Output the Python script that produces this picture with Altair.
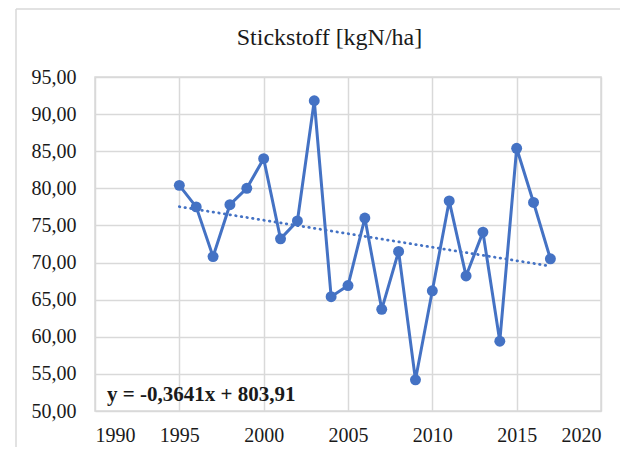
import altair as alt
import pandas as pd

years = list(range(1995, 2018))
stickstoff = [80.4, 77.5, 70.8, 77.8, 80.0, 84.0, 73.2, 75.6, 91.8, 65.4, 66.9,
              76.0, 63.7, 71.5, 54.2, 66.2, 78.3, 68.2, 74.1, 59.4, 85.4, 78.1, 70.5]
trend_slope = -0.3641
trend_intercept = 803.91
trend_label = "y = -0,3641x + 803,91"
chart_title = "Stickstoff [kgN/ha]"
x_ticks = [1990, 1995, 2000, 2005, 2010, 2015, 2020]
y_ticks = [50, 55, 60, 65, 70, 75, 80, 85, 90, 95]

df = pd.DataFrame({"Jahr": years, "Wert": stickstoff})

BLUE = "#4472C4"
GRID = "#d9d9d9"
SERIF = "Liberation Serif"

x_scale = alt.Scale(domain=[1990, 2020], nice=False, zero=False)
y_scale = alt.Scale(domain=[50, 95], nice=False, zero=False)
x_axis = alt.Axis(values=x_ticks, format="d", title=None, labelOverlap=False)
y_axis = alt.Axis(values=y_ticks, title=None, labelOverlap=False,
                  labelExpr="replace(format(datum.value, '.2f'), '.', ',')")

x_enc = alt.X("Jahr:Q", scale=x_scale, axis=x_axis)
y_enc = alt.Y("Wert:Q", scale=y_scale, axis=y_axis)

base = alt.Chart(df)

line = base.mark_line(color=BLUE, strokeWidth=3).encode(x=x_enc, y=y_enc)
points = base.mark_circle(color=BLUE, size=120, opacity=1).encode(x=x_enc, y=y_enc)

trend = base.transform_calculate(
    Trend=f"{trend_slope} * datum.Jahr + {trend_intercept}"
).mark_line(color=BLUE, strokeWidth=2.75, strokeDash=[0.5, 5.2], strokeCap="round").encode(
    x=x_enc, y=alt.Y("Trend:Q", scale=y_scale, axis=y_axis)
)

eq = alt.Chart(pd.DataFrame({"t": [trend_label]})).mark_text(
    font=SERIF, fontSize=21, fontWeight="bold", color="#1a1a1a",
    align="left", baseline="alphabetic"
).encode(x=alt.value(12), y=alt.value(324), text="t:N")

title = alt.Chart(pd.DataFrame({"t": [chart_title]})).mark_text(
    font=SERIF, fontSize=24, color="#1a1a1a", align="center", baseline="alphabetic"
).encode(x=alt.value(234.5), y=alt.value(-32.5), text="t:N")

frame_df = pd.DataFrame({"a": [0]})
frame_left = alt.Chart(frame_df).mark_rule(color=GRID, strokeWidth=1.5).encode(
    x=alt.value(-79), y=alt.value(-68), y2=alt.value(500))
frame_top = alt.Chart(frame_df).mark_rule(color=GRID, strokeWidth=1.5).encode(
    x=alt.value(-79), x2=alt.value(700), y=alt.value(-68))

chart = alt.layer(line, trend, points, eq, title, frame_left, frame_top).properties(
    width=506, height=334,
    padding={"left": 87, "top": 69, "right": 19, "bottom": 36},
    autosize=alt.AutoSizeParams(type="none"),
).configure_view(stroke=GRID, strokeWidth=1.5).configure_axis(
    domain=False, ticks=False, grid=True, gridColor=GRID, gridWidth=1.5,
    labelFont=SERIF, labelFontSize=20, labelColor="#1a1a1a"
).configure_axisX(labelPadding=14).configure_axisY(labelPadding=19)

chart.save("out.html", embed_options={"renderer": "svg", "actions": False})
